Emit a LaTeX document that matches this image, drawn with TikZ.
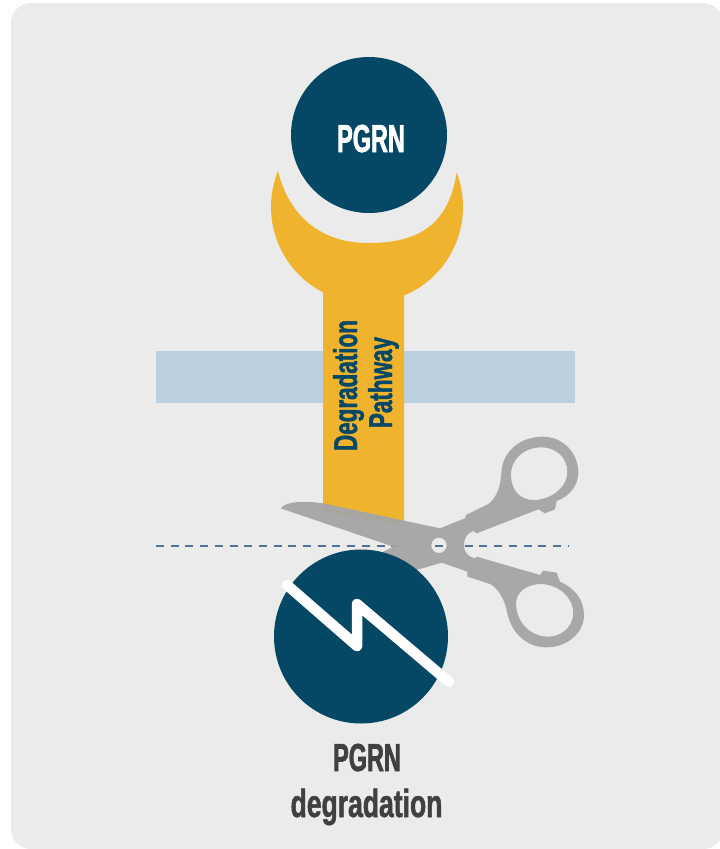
\documentclass[tikz,border=0pt]{standalone}
\usepackage{fontspec}
\setmainfont{Liberation Sans}
\newfontfamily\condA{Liberation Sans}[FakeStretch=0.6,FakeBold=1.6]
\newfontfamily\condB{Liberation Sans}[FakeStretch=0.68,FakeBold=1.3]
\definecolor{panel}{HTML}{EBEBEB}
\definecolor{navy}{HTML}{044866}
\definecolor{gold}{HTML}{F0B32D}
\definecolor{band}{HTML}{BBCFDF}
\definecolor{dashc}{HTML}{4F7396}
\definecolor{blade}{HTML}{A6A6A6}
\definecolor{ink}{HTML}{404040}
\tikzset{
  disc/.style={circle,fill=navy,draw=none,inner sep=0pt,minimum size=#1},
  lab/.style={inner sep=0pt,anchor=base}
}
\begin{document}
\begin{tikzpicture}[x=1pt,y=-1pt]
\useasboundingbox (0,0) rectangle (720,849);
\fill[white] (0,0) rectangle (720,849);
\fill[panel,rounded corners=20pt] (11,3) rectangle (723,849);
\fill[band] (156,351) rectangle (575,403);
% wrench
\fill[gold] (323,285) -- (404,285) -- (404,526) -- (323,512) -- cycle;
\fill[gold] (278,171) arc[start angle=158,end angle=381,radius=96pt]
  .. controls (448,228) and (415,243) .. (368,243)
  .. controls (325,243) and (290,220) .. (278,171) -- cycle;
\draw[dashc,line width=1.8pt,dash pattern=on 8pt off 6.7pt] (156,546) -- (568,546);
% scissors
\begin{scope}[shift={(260,420)},x=.33333pt,y=-.33333pt]
\fill[blade,even odd rule,opacity=.96]
 (62,265) .. controls (80,243) and (130,242) .. (190,250) -- (540,325) -- (615,295) -- (618,285) -- (685,252)
 .. controls (712,232) and (722,195) .. (724,160)
 .. controls (726,95) and (780,50) .. (848,50)
 .. controls (910,50) and (955,100) .. (955,158)
 .. controls (955,195) and (930,228) .. (890,243)
 -- (885,268) -- (855,280) -- (835,268) -- (650,340) -- (640,333)
 .. controls (620,340) and (612,355) .. (612,378)
 .. controls (612,395) and (625,412) .. (645,415)
 -- (650,410) -- (840,465) -- (850,452) -- (890,458) -- (900,485)
 .. controls (945,505) and (972,540) .. (972,585)
 .. controls (972,640) and (920,682) .. (860,682)
 .. controls (800,682) and (755,640) .. (742,580)
 .. controls (735,540) and (715,505) .. (690,492)
 -- (622,470) -- (622,455) -- (545,428) -- (470,450) -- (400,470) -- (360,400) -- (400,380) -- cycle
 (753,170) .. controls (750,120) and (790,82) .. (845,82)
 .. controls (890,82) and (922,115) .. (922,155)
 .. controls (922,205) and (870,240) .. (820,240)
 .. controls (780,240) and (755,210) .. (753,170) -- cycle
 (768,550) .. controls (770,515) and (800,492) .. (845,492)
 .. controls (900,495) and (940,535) .. (940,580)
 .. controls (938,625) and (900,650) .. (865,650)
 .. controls (810,650) and (768,605) .. (768,550) -- cycle
 (537,376) circle[radius=7.7pt];
\end{scope}
% discs
\node[disc=156pt] (top) at (369,135) {};
\node[disc=174pt] (bottom) at (361,636.5) {};
\draw[white,line width=10.5pt,line cap=round,line join=round]
  (287,585) -- (357,646) -- (357,604) -- (449,682);
% labels
\node[lab,text=white,font=\condA\bfseries\fontsize{39}{39}\selectfont] (t1) at (371,152) {PGRN};
\node[lab,text=navy,rotate=90,font=\condB\bfseries\fontsize{33}{33}\selectfont] (t2) at (357,385.5) {Degradation};
\node[lab,text=navy,rotate=90,font=\condB\bfseries\fontsize{33}{33}\selectfont] (t3) at (392,382.5) {Pathway};
\node[lab,text=ink,font=\condA\bfseries\fontsize{39}{39}\selectfont] (t4) at (367,771) {PGRN};
\node[lab,text=ink,font=\condB\bfseries\fontsize{39}{39}\selectfont] (t5) at (366.5,817) {degradation};
\end{tikzpicture}
\end{document}
